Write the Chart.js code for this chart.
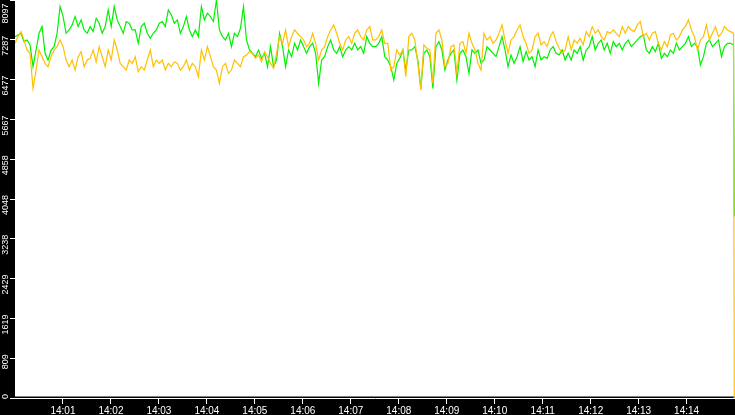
<!DOCTYPE html>
<html>
<head>
<meta charset="utf-8">
<title>Rate</title>
<script src="https://cdn.jsdelivr.net/npm/chart.js@4.4.0/dist/chart.umd.min.js"></script>
<style>
    html, body { margin: 0; padding: 0; background: #000; }
    #wrap { width: 735px; height: 415px; }
</style>
</head>
<body>
<div id="wrap"><canvas id="rateChart"></canvas></div>
<script>
// one sample every 3.76 s from 14:00:00, then the final drop
const sampleSeconds = 3.76;
const dropSeconds = 899.6;

const orangeValues = [
    7216, 7352, 7454, 7284, 7080, 7012, 6298, 6672, 7080, 6944, 6808, 6740, 6944, 7080, 7148, 7284, 7148, 6876, 6740, 6876,
    6672, 6944, 7046, 6740, 6876, 6910, 7080, 6842, 7148, 6944, 6740, 7080, 6876, 7284, 7080, 6808, 6740, 6672, 6876, 6808,
    6944, 6638, 6740, 6672, 6876, 7080, 6740, 6876, 6808, 6876, 6672, 6808, 6740, 6842, 6808, 6672, 6740, 6876, 6672, 6808,
    6740, 6536, 7080, 6876, 7148, 6944, 6740, 6672, 6400, 6740, 6808, 6604, 6672, 6876, 6808, 6740, 6944, 6978, 7046, 7012,
    6910, 6978, 6842, 7046, 6944, 6808, 6706, 7012, 7352, 7216, 7488, 7148, 7352, 7488, 7420, 7352, 7284, 7148, 7216, 7420,
    7216, 6876, 7080, 7148, 7352, 7488, 7590, 7420, 7216, 7080, 7284, 7352, 7216, 7420, 7488, 7352, 7284, 7488, 7556, 7284,
    7284, 7352, 7488, 7216, 7216, 6672, 6740, 7080, 6978, 7080, 6536, 7352, 7420, 7284, 6808, 6264, 7182, 7114, 7080, 6400,
    7420, 7488, 7284, 6740, 6808, 7148, 7182, 6604, 7216, 7250, 7012, 7420, 7216, 7080, 6808, 6672, 7420, 7284, 7352, 7216,
    7284, 7420, 7590, 7284, 7012, 7284, 7352, 7488, 7590, 7352, 7216, 7012, 7080, 7352, 7420, 7182, 7250, 7148, 7352, 7454,
    7250, 7114, 7012, 7080, 7352, 7080, 7284, 7216, 7318, 7182, 7454, 7352, 7556, 7420, 7488, 7352, 7284, 7454, 7420, 7488,
    7420, 7352, 7556, 7420, 7556, 7488, 7454, 7590, 7658, 7352, 7420, 7284, 7420, 7454, 7216, 7080, 7250, 7148, 7386, 7420,
    7284, 7352, 7488, 7556, 7692, 7488, 7352, 7080, 7284, 7352, 7590, 7284, 7420, 7556, 7352, 7420, 7556, 7488, 7454, 7420
];
const orangeLast = 0;

const greenValues = [
    7352, 7386, 7420, 7250, 7284, 7182, 6740, 7080, 7420, 7556, 7012, 6876, 7080, 7148, 7420, 7964, 7760, 7420, 7488, 7590,
    7760, 7556, 7692, 7488, 7420, 7556, 7454, 7726, 7624, 7420, 7556, 7896, 7556, 7964, 7692, 7556, 7420, 7658, 7624, 7488,
    7488, 7216, 7556, 7624, 7420, 7318, 7420, 7488, 7624, 7658, 7556, 7896, 7794, 7624, 7692, 7420, 7556, 7760, 7488, 7352,
    7488, 7352, 7964, 7692, 7828, 7760, 7658, 8097, 7488, 7352, 7284, 7420, 7148, 7420, 7352, 7522, 7964, 7284, 7080, 7012,
    6944, 7080, 6910, 7012, 6740, 7148, 6740, 6876, 7420, 7148, 6740, 7080, 6944, 7216, 7080, 7284, 7148, 7012, 7148, 7216,
    7012, 6400, 6876, 6944, 7148, 7284, 7080, 7012, 7148, 6944, 7080, 7148, 7080, 7216, 7080, 7148, 7012, 7352, 7216, 7148,
    7148, 7216, 7352, 6944, 6876, 6740, 6468, 6808, 6910, 7080, 6672, 7080, 7080, 7148, 6876, 6298, 7012, 7080, 6944, 6298,
    7148, 7250, 7080, 6672, 6876, 7012, 7080, 6468, 7012, 7080, 6944, 6604, 7080, 7012, 7080, 6808, 6876, 7148, 7080, 7012,
    6944, 7148, 7352, 7080, 6740, 6978, 6808, 6944, 7148, 6842, 7046, 6876, 6944, 6740, 7080, 6876, 6944, 6910, 7080, 7148,
    7012, 6978, 7080, 6876, 7012, 6876, 7080, 7012, 7148, 6876, 7080, 7148, 7352, 7080, 7216, 7284, 7080, 7216, 7012, 7250,
    7148, 7216, 7080, 7216, 7284, 7148, 7216, 7284, 7352, 7386, 7080, 7012, 7148, 7046, 7216, 6910, 7012, 6944, 7080, 7012,
    7216, 7080, 7148, 7216, 7352, 7148, 7216, 7148, 6774, 6944, 7216, 7284, 7148, 7216, 7284, 6944, 7148, 7216, 7216, 7182
];
const greenLast = 3700;

// axis ticks
const xTickSeconds = [60, 120, 180, 240, 300, 360, 420, 480, 540, 600, 660, 720, 780, 840];
const xTickLabels = ['14:01', '14:02', '14:03', '14:04', '14:05', '14:06', '14:07',
                     '14:08', '14:09', '14:10', '14:11', '14:12', '14:13', '14:14'];
const yTickValues = [0, 809.7, 1619.4, 2429.1, 3238.8, 4048.5, 4858.2, 5667.9, 6477.6, 7287.3, 8097];
const yTickLabels = ['0', '809', '1619', '2429', '3238', '4048', '4858', '5667', '6477', '7287', '8097'];

function toPoints(values, last) {
    const pts = values.map((v, i) => ({ x: i * sampleSeconds, y: v }));
    pts.push({ x: dropSeconds, y: last });
    return pts;
}

// black frame, white plot area
const backdrop = {
    id: 'backdrop',
    beforeDraw(chart) {
        const { ctx, chartArea: a } = chart;
        ctx.save();
        ctx.fillStyle = '#000';
        ctx.fillRect(0, 0, chart.width, chart.height);
        ctx.fillStyle = '#fff';
        ctx.fillRect(a.left, a.top, a.right - a.left, a.bottom - a.top - 1.5);
        ctx.restore();
    }
};

const ctx = document.getElementById('rateChart').getContext('2d');
const rateChart = new Chart(ctx, {
    type: 'line',
    data: {
        datasets: [
            {
                label: 'orange',
                data: toPoints(orangeValues, orangeLast),
                borderColor: '#ffc000',
                borderWidth: 1.2
            },
            {
                label: 'green',
                data: toPoints(greenValues, greenLast),
                borderColor: '#00f000',
                borderWidth: 1.2
            }
        ]
    },
    options: {
        responsive: true,
        maintainAspectRatio: false,
        devicePixelRatio: 1,
        animation: false,
        layout: { padding: 0 },
        elements: {
            point: { radius: 0 },
            line: { tension: 0 }
        },
        plugins: {
            legend: { display: false },
            tooltip: { enabled: false }
        },
        scales: {
            x: {
                type: 'linear',
                min: 0,
                max: 900.5,
                afterBuildTicks: s => { s.ticks = xTickSeconds.map(v => ({ value: v })); },
                afterFit: s => { s.height = 17; s.paddingLeft = 0; s.paddingRight = 0; },
                border: { display: true, color: '#fff', width: 1 },
                grid: { drawOnChartArea: false, drawTicks: true, tickLength: 6, color: '#fff' },
                ticks: {
                    color: '#fff',
                    font: { family: 'Liberation Sans', size: 10 },
                    padding: 1,
                    maxRotation: 0,
                    autoSkip: false,
                    callback: (v, i) => xTickLabels[i]
                }
            },
            y: {
                min: 0,
                max: 8097,
                afterBuildTicks: s => { s.ticks = yTickValues.map(v => ({ value: v })); },
                afterFit: s => { s.width = 15; s.paddingTop = 0; s.paddingBottom = 0; },
                border: { display: false },
                grid: { drawOnChartArea: false, drawTicks: true, tickLength: 5, color: '#fff' },
                ticks: {
                    color: '#fff',
                    font: { family: 'Liberation Sans', size: 9 },
                    padding: 4,
                    minRotation: 90,
                    maxRotation: 90,
                    autoSkip: false,
                    labelOffset: -4,
                    // top label is pushed down inside the frame with trailing spaces
                    callback: (v, i) => (i === yTickLabels.length - 1 ? yTickLabels[i] + '   ' : yTickLabels[i])
                }
            }
        }
    },
    plugins: [backdrop]
});
</script>
</body>
</html>
